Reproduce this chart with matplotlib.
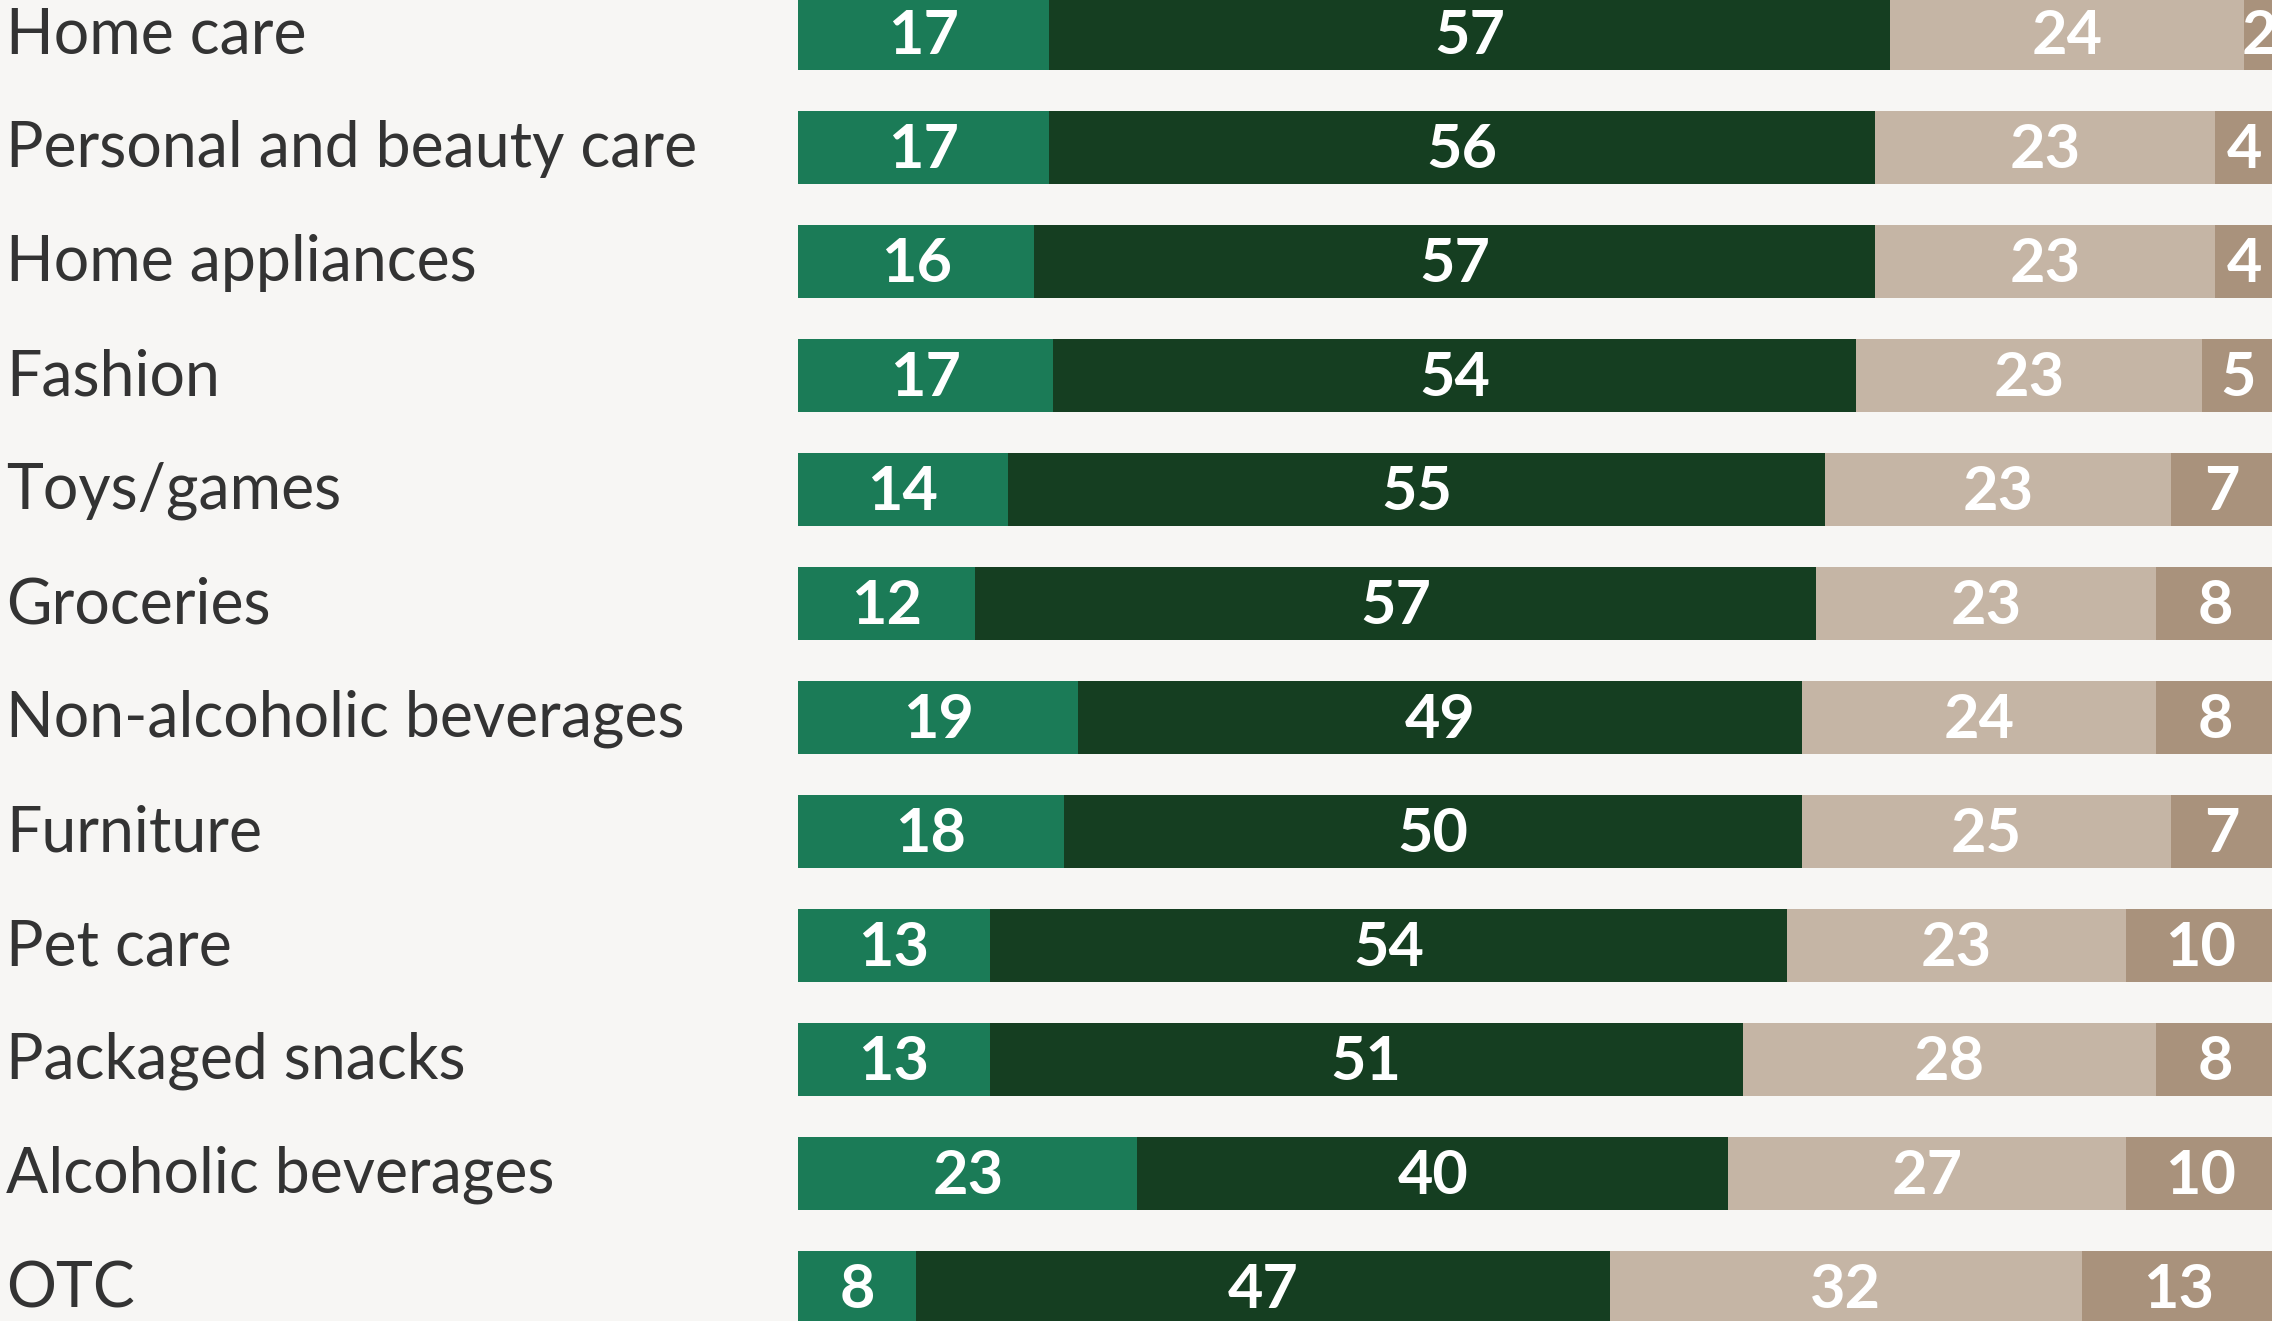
import matplotlib
matplotlib.use("Agg")
import matplotlib.pyplot as plt

categories = ["Home care", "Personal and beauty care", "Home appliances", "Fashion",
              "Toys/games", "Groceries", "Non-alcoholic beverages", "Furniture",
              "Pet care", "Packaged snacks", "Alcoholic beverages", "OTC"]
seg1 = [17, 17, 16, 17.3, 14.2, 12, 19, 18, 13, 13, 23, 8]
seg2 = [57, 56, 57, 54.4, 55.4, 57, 49, 50, 54, 51, 40, 47]
seg3 = [24, 23, 23, 23.4, 23.4, 23, 24, 25, 23, 28, 27, 32]
seg4 = [2, 4, 4, 4.9, 7.0, 8, 8, 7, 10, 8, 10, 13]

colors = ["#1B7B57", "#153E21", "#C5B5A5", "#A9927C"]
bg = "#F7F6F4"

W, H = 2272, 1321
fig = plt.figure(figsize=(W / 100, H / 100), dpi=100, facecolor=bg)
ax = fig.add_axes([0, 0, 1, 1])
ax.set_facecolor(bg)

px_per_unit = 14.76
x0_px = 798
xmin = -x0_px / px_per_unit
xmax = (W - x0_px) / px_per_unit
pitch = 114.0
first_center = 33.5
ymin = -first_center / pitch
ymax = (H - first_center) / pitch
ax.set_xlim(xmin, xmax)
ax.set_ylim(ymax, ymin)
ax.axis("off")

bar_h = 73 / pitch
segs = [seg1, seg2, seg3, seg4]
ypos = list(range(len(categories)))
left = [0] * len(categories)
for s, c in zip(segs, colors):
    ax.barh(ypos, s, left=left, height=bar_h, color=c, edgecolor="none")
    for i, (v, l) in enumerate(zip(s, left)):
        ax.text(l + v / 2, i + 21 / pitch, "%.0f" % v, ha="center", va="baseline",
                color="white", fontsize=44, fontweight="bold", family=["Lato", "DejaVu Sans"])
    left = [a + b for a, b in zip(left, s)]

for i, cat in enumerate(categories):
    ax.text(xmin + 6 / px_per_unit, i + 19.5 / pitch, cat, ha="left", va="baseline",
            color="#333333", fontsize=45, family=["Lato", "DejaVu Sans"])

fig.savefig("out.png", dpi=100, facecolor=bg)
